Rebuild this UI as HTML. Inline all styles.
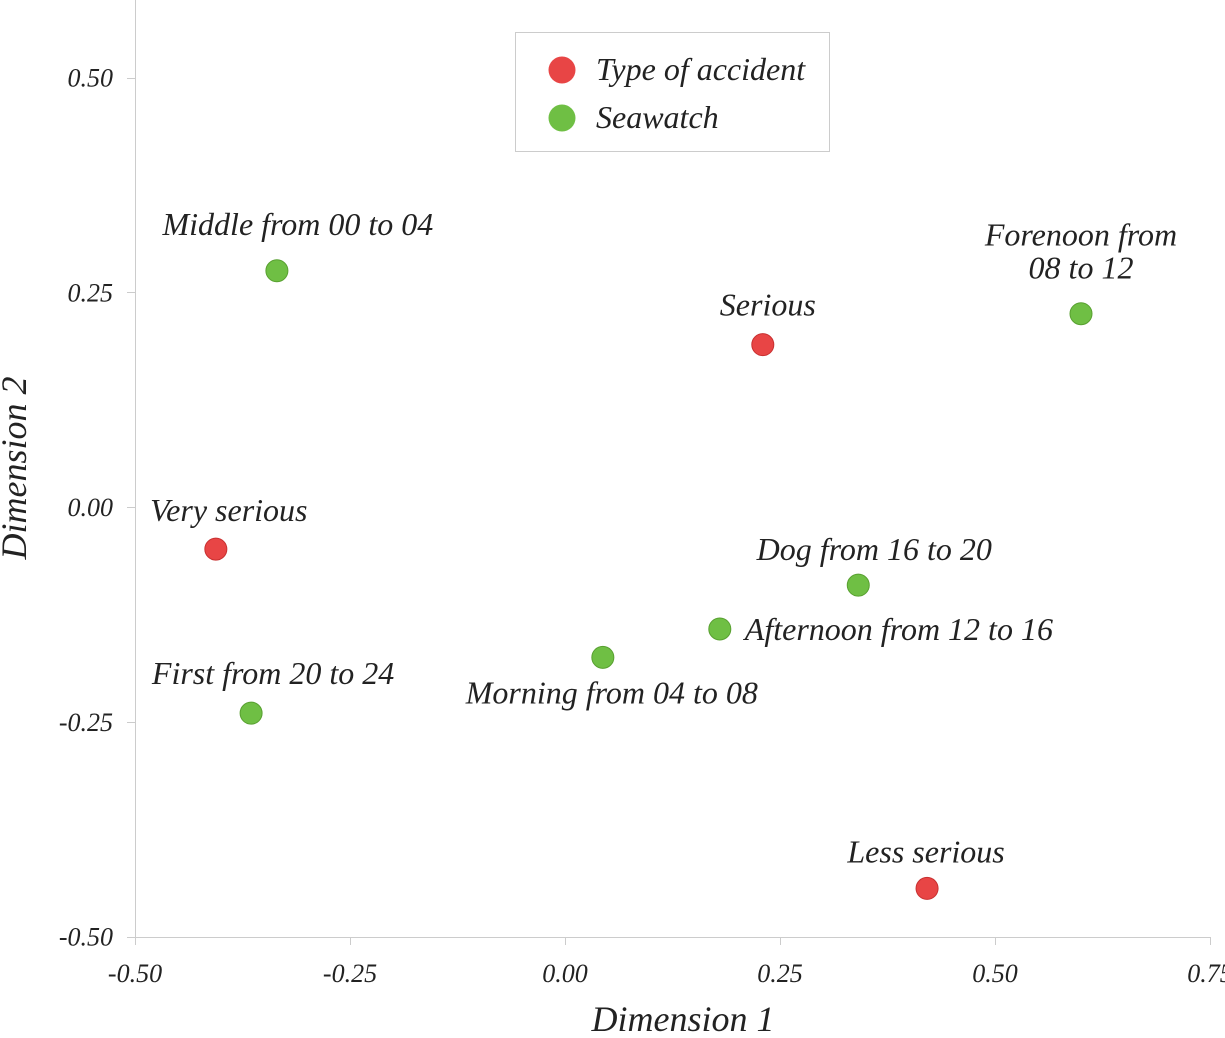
<!DOCTYPE html>
<html><head><meta charset="utf-8"><style>
body{margin:0;background:#fff}
svg text{font-family:"Liberation Serif",serif;font-style:italic;fill:#222}
</style></head><body>
<svg id="chart" width="1225" height="1033" xmlns="http://www.w3.org/2000/svg">
<g id="axes"></g>
<g id="points"></g>
<g>
<rect x="515.5" y="32.5" width="314" height="119" fill="#fff" stroke="#ccc"/>
<circle cx="562" cy="70" r="13.5" fill="#e84545"/>
<text x="596" y="80" font-size="32">Type of accident</text>
<circle cx="562" cy="118" r="13.5" fill="#6fbf44"/>
<text x="596" y="128" font-size="32">Seawatch</text>
</g>
<text x="683" y="1031" font-size="36" text-anchor="middle">Dimension 1</text>
<text transform="translate(26,468) rotate(-90)" font-size="36" text-anchor="middle">Dimension 2</text>
</svg>
<script>
const labels=["Middle from 00 to 04","Serious","Forenoon from|08 to 12","Very serious","Dog from 16 to 20","Afternoon from 12 to 16","Morning from 04 to 08","First from 20 to 24","Less serious"];
const groups=["s","a","s","a","s","s","s","s","a"];
const xs=[-0.335,0.230,0.600,-0.406,0.341,0.180,0.044,-0.365,0.421];
const ys=[0.275,0.189,0.225,-0.049,-0.091,-0.142,-0.175,-0.240,-0.444];
const xTicks=[-0.5,-0.25,0,0.25,0.5,0.75];
const yTicks=[0.5,0.25,0,-0.25,-0.5];
const xTickLabels=["-0.50","-0.25","0.00","0.25","0.50","0.75"];
const yTickLabels=["0.50","0.25","0.00","-0.25","-0.50"];
const X=v=>565+v*860, Y=v=>507-v*859;
const NS="http://www.w3.org/2000/svg";
const ax=document.getElementById('axes'), pt=document.getElementById('points');
function mk(t,a,p){const e=document.createElementNS(NS,t);for(const k in a)e.setAttribute(k,a[k]);p.appendChild(e);return e;}
let l=mk('line',{x1:135.5,y1:0,x2:135.5,y2:937.5,stroke:'#ccc'},ax);


l=mk('line',{x1:135,y1:937.5,x2:1210,y2:937.5,stroke:'#ccc'},ax);


xTicks.forEach((v,i)=>{const x=Math.round(X(v))+0.5;
 mk('line',{x1:x,y1:937,x2:x,y2:945,stroke:'#ccc'},ax);
 const t=mk('text',{x:X(v),y:982,'font-size':26,'text-anchor':'middle'},ax);t.textContent=xTickLabels[i];
 
 });
yTicks.forEach((v,i)=>{const y=Math.round(Y(v))+0.5;
 mk('line',{x1:127,y1:y,x2:135,y2:y,stroke:'#ccc'},ax);
 const t=mk('text',{x:113,y:Y(v)+9,'font-size':26,'text-anchor':'end'},ax);t.textContent=yTickLabels[i];
 
 });
const off=[[21,-36,'middle'],[5,-29,'middle'],[0,-68,'middle'],[13,-28,'middle'],[16,-25,'middle'],[25,11,'start'],[9,46,'middle'],[22,-29,'middle'],[-1,-26,'middle']];
xs.forEach((v,i)=>{const cx=X(v),cy=Y(ys[i]);
 const c=mk('circle',{cx:cx,cy:cy,r:11,fill:groups[i]=='a'?'#e84545':'#6fbf44',stroke:groups[i]=='a'?'#c83030':'#58a030','stroke-width':1},pt);
 
 
 const o=off[i];const lines=labels[i].split('|');
 lines.forEach((s,j)=>{const t=mk('text',{x:cx+o[0],y:cy+o[1]+j*33,'font-size':32,'text-anchor':o[2]},pt);t.textContent=s;
 
 });
});
</script>
</body></html>
